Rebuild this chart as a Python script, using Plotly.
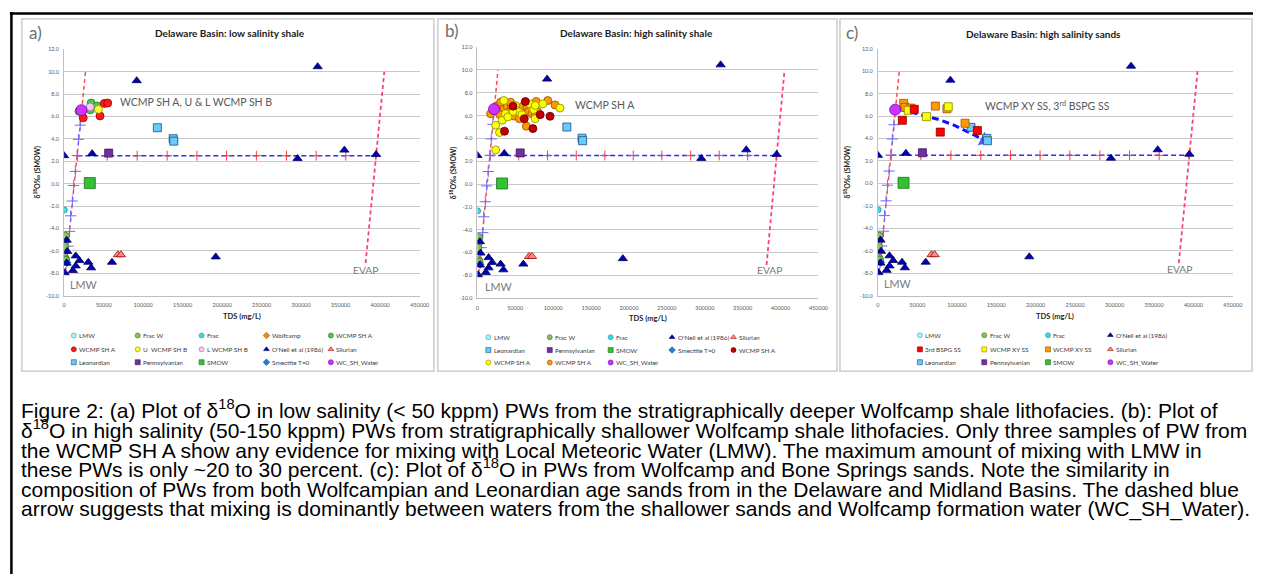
import plotly.graph_objects as go

W, H = 1263, 577

# ---------------- data (TDS mg/L, d18O permil SMOW) ----------------
oneil_tds = [0, 35500, 91900, 320900, 295400, 354700, 394800, 3300, 4000, 3200, 700,
             14700, 19400, 14700, 11100, 30600, 34200, 60600, 191900]
oneil_d18o = [2.5, 2.68, 9.2, 10.45, 2.25, 3.0, 2.6, -5.05, -6.05, -7.1, -7.95,
              -6.45, -6.87, -7.35, -7.75, -7.02, -7.52, -7.02, -6.54]

silurian_tds = [68000, 72000]
silurian_d18o = [-6.35, -6.35]

lmw_tds = [2500]
lmw_d18o = [-6.95]
fracw_tds = [1800, 500, 1500, 2200]
fracw_d18o = [-4.7, -5.6, -6.7, -6.85]
frac_tds = [300]
frac_d18o = [-2.35]
smectite_tds = [3600]
smectite_d18o = [-7.05]

leon_tds = [118000, 138000, 138800]
leon_d18o = [5.0, 4.02, 3.8]
penn_tds = [56400]
penn_d18o = [2.73]
smow_tds = [32500]
smow_d18o = [0.05]
wcsh_tds = [21900]
wcsh_d18o = [6.57]

# mixing / evaporation reference lines
lmw_mix_tds = [1800, 27100]
lmw_mix_d18o = [-7.8, 10.0]
lmw_cross_tds = [5000, 7000, 8300, 10400, 12100, 14200, 16700, 18300, 20400]
lmw_cross_d18o = [-5.58, -4.26, -2.87, -1.55, -0.16, 1.10, 2.52, 3.96, 5.23]
evap_tds = [381500, 405200]
evap_d18o = [-7.1, 10.0]
smow_line_tds = [16700, 54500, 92500, 130400, 168100, 205600, 243300, 281400, 319000, 356500, 394500]
smow_line_d18o = [2.5] * 11

# panel a: low salinity shale
a_shA_green_tds = [18800, 33000, 34200, 41700]
a_shA_green_d18o = [6.47, 6.6, 7.2, 6.94]
a_shA_red_tds = [24200, 45500, 50900, 55200]
a_shA_red_d18o = [5.88, 6.05, 7.17, 7.2]
a_ushB_tds = [43400]
a_ushB_d18o = [6.64]
a_lshB_tds = [33000]
a_lshB_d18o = [6.85]

# panel b: high salinity shale (three WCMP SH A series)
b_dred_tds = [35700, 47000, 63200, 61800, 73200, 82800, 95800]
b_dred_d18o = [4.63, 6.83, 7.24, 5.73, 4.86, 6.08, 5.94]
b_orange_tds = [17400, 25200, 29600, 34900, 39200, 41400, 44900, 48000, 52300, 55300, 60100,
                65400, 64500, 67600, 71900, 76200, 77500, 79300, 92800, 102300, 30500, 43600]
b_orange_d18o = [6.16, 6.83, 6.08, 6.66, 6.83, 6.31, 6.83, 5.96, 6.46, 5.73, 6.83,
                 6.74, 5.07, 6.37, 6.16, 6.02, 7.24, 6.37, 7.32, 6.94, 7.18, 7.18]
b_yellow_tds = [24000, 29200, 24000, 32700, 34900, 37000, 40100, 50100, 54500, 58800, 68900,
                74100, 76200, 76200, 86300, 108900, 21800, 47000]
b_yellow_d18o = [5.16, 4.52, 2.99, 5.59, 7.32, 6.16, 5.88, 6.89, 6.31, 6.08, 7.03,
                 6.54, 5.73, 6.89, 7.03, 6.66, 6.46, 6.37]

# panel c: high salinity sands
c_bspg_tds = [31000, 46100, 79100, 126100]
c_bspg_d18o = [5.63, 6.6, 4.57, 4.72]
c_xy_yel_tds = [38500, 61500, 89200]
c_xy_yel_d18o = [6.51, 5.95, 6.83]
c_xy_or_tds = [32700, 34400, 41900, 72800, 87500, 110500]
c_xy_or_d18o = [7.13, 6.78, 6.71, 6.89, 6.65, 5.36]
c_arrow_tds = [28000, 51000, 76000, 95000, 114000, 134500]
c_arrow_d18o = [6.6, 6.21, 5.72, 5.24, 4.6, 3.88]

x_ticks = [0, 50000, 100000, 150000, 200000, 250000, 300000, 350000, 400000, 450000]
y_ticks = [-10, -8, -6, -4, -2, 0, 2, 4, 6, 8, 10, 12]

titles = ["Delaware Basin: low salinity shale", "Delaware Basin: high salinity shale",
          "Delaware Basin: high salinity sands"]
panel_letters = ["a)", "b)", "c)"]

caption = [
    "Figure 2: (a) Plot of δ<sup>18</sup>O in low salinity (< 50 kppm) PWs from the stratigraphically deeper Wolfcamp shale lithofacies. (b): Plot of",
    "δ<sup>18</sup>O in high salinity (50-150 kppm) PWs from stratigraphically shallower Wolfcamp shale lithofacies. Only three samples of PW from",
    "the WCMP SH A show any evidence for mixing with Local Meteoric Water (LMW). The maximum amount of mixing with LMW in",
    "these PWs is only ~20 to 30 percent. (c): Plot of δ<sup>18</sup>O in PWs from Wolfcamp and Bone Springs sands. Note the similarity in",
    "composition of PWs from both Wolfcampian and Leonardian age sands from in the Delaware and Midland Basins. The dashed blue",
    "arrow suggests that mixing is dominantly between waters from the shallower sands and Wolfcamp formation water (WC_SH_Water).",
]

# ---------------- styles ----------------
ST = {
    "oneil": ("triangle-up", "#0000b4", "#00005a", 8),
    "silurian": ("triangle-up", "#ff8c8c", "#a00000", 8),
    "lmw": ("circle", "#aef0f5", "#2aa8b8", 7),
    "fracw": ("circle", "#86c45a", "#3f6e22", 8),
    "frac": ("circle", "#3fd8e0", "#1a9aa5", 6),
    "smectite": ("diamond", "#1f7fd0", "#0b4f8a", 6),
    "leon": ("square", "#66ccff", "#1f4e79", 8),
    "penn": ("square", "#7030a0", "#3c1060", 8),
    "smow": ("square", "#33c233", "#1d6e1d", 11),
    "wcsh": ("circle", "#cc33ff", "#7a00a8", 11),
    "shA_green": ("circle", "#4cc94c", "#2a6e2a", 8),
    "shA_red": ("circle", "#ff1a1a", "#9a0000", 8),
    "ushB": ("circle", "#ffff33", "#8a8a00", 8),
    "lshB": ("circle", "#f7c8f5", "#9a6a98", 8),
    "wolfcamp": ("diamond", "#f08c1e", "#9a5000", 6),
    "b_dred": ("circle", "#c00000", "#5a0000", 8),
    "b_yellow": ("circle", "#ffff00", "#8a8a00", 8),
    "b_orange": ("circle", "#ff9900", "#9a5000", 8),
    "c_bspg": ("square", "#ff0000", "#8a0000", 8),
    "c_xy_yel": ("square", "#ffff00", "#8a8a00", 8),
    "c_xy_or": ("square", "#ff9900", "#9a5000", 8),
}

common = [("lmw", lmw_tds, lmw_d18o), ("fracw", fracw_tds, fracw_d18o),
          ("frac", frac_tds, frac_d18o), ("smectite", smectite_tds, smectite_d18o),
          ("oneil", oneil_tds, oneil_d18o), ("silurian", silurian_tds, silurian_d18o),
          ("leon", leon_tds, leon_d18o), ("penn", penn_tds, penn_d18o),
          ("smow", smow_tds, smow_d18o)]

panel_series = [
    [("shA_green", a_shA_green_tds, a_shA_green_d18o), ("lshB", a_lshB_tds, a_lshB_d18o),
     ("shA_red", a_shA_red_tds, a_shA_red_d18o), ("ushB", a_ushB_tds, a_ushB_d18o)],
    [("b_orange", b_orange_tds, b_orange_d18o), ("b_yellow", b_yellow_tds, b_yellow_d18o),
     ("b_dred", b_dred_tds, b_dred_d18o)],
    [("c_xy_or", c_xy_or_tds, c_xy_or_d18o), ("c_xy_yel", c_xy_yel_tds, c_xy_yel_d18o),
     ("c_bspg", c_bspg_tds, c_bspg_d18o)],
]

legend_rows = [
    [[("LMW", "lmw"), ("Frac W", "fracw"), ("Frac", "frac"), ("Wolfcamp", "wolfcamp"), ("WCMP SH A", "shA_green")],
     [("WCMP SH A", "shA_red"), ("U  WCMP SH B", "ushB"), ("L WCMP SH B", "lshB"), ("O'Neil et al (1986)", "oneil"), ("Silurian", "silurian")],
     [("Leonardian", "leon"), ("Pennsylvanian", "penn"), ("SMOW", "smow"), ("Smectite T=0", "smectite"), ("WC_SH_Water", "wcsh")]],
    [[("LMW", "lmw"), ("Frac W", "fracw"), ("Frac", "frac"), ("O'Neil et al (1986)", "oneil"), ("Silurian", "silurian")],
     [("Leonardian", "leon"), ("Pennsylvanian", "penn"), ("SMOW", "smow"), ("Smectite T=0", "smectite"), ("WCMP SH A", "b_dred")],
     [("WCMP SH A", "b_yellow"), ("WCMP SH A", "b_orange"), ("WC_SH_Water", "wcsh")]],
    [[("LMW", "lmw"), ("Frac W", "fracw"), ("Frac", "frac"), ("O'Neil et al (1986)", "oneil")],
     [("3rd BSPG SS", "c_bspg"), ("WCMP XY SS", "c_xy_yel"), ("WCMP XY SS", "c_xy_or"), ("Silurian", "silurian")],
     [("Leonardian", "leon"), ("Pennsylvanian", "penn"), ("SMOW", "smow"), ("WC_SH_Water", "wcsh")]],
]

# ---------------- layout geometry (pixels) ----------------
plot_px = [(62.7, 421.7, 46.6, 295.7), (480.0, 824.3, 44.4, 298.2), (884.3, 1242.7, 46.0, 295.7)]
box_px = [(20, 436, 16, 372), (440, 843, 16, 372), (846, 1262, 16, 372)]
title_px = [(230.5, 30.5), (641, 30), (1051, 31)]
letter_px = [(34, 30), (454, 28), (858, 30)]
ytitle_x = [35.5, 455, 853.5]
xtitle_y = [316.5, 319, 316.5]
leg_cols = [[72.5, 137, 201.5, 267, 332], [491, 553, 614.5, 676.5, 738.5], [926.7, 991.7, 1056, 1119]]
leg_rows = [[336, 350, 363], [337.7, 350.7, 363.3], [335.7, 350, 363]]
wcmp_label = [("WCMP SH A, U & L WCMP SH B", 67700, 7.29),
              ("WCMP SH A", 126400, 6.89),
              ("WCMP XY SS, 3<sup>rd</sup> BSPG SS", 132700, 6.95)]
lmw_label = [(5000, -9.0), (7800, -8.94), (5000, -8.95)]
evap_label = [(363500, -7.67), (366000, -7.55), (363500, -7.6)]


def fx(x):
    return x / W


def fy(y):
    return 1 - y / H


fig = go.Figure()
layout = dict(width=W, height=H, margin=dict(l=0, r=0, t=0, b=0),
              paper_bgcolor="white", plot_bgcolor="rgba(0,0,0,0)", showlegend=False)

shapes = []
annotations = []

# outer black frame (top and left edges) and panel boxes
shapes.append(dict(type="line", xref="paper", yref="paper", x0=fx(8), x1=1, y0=fy(10.5), y1=fy(10.5),
                   line=dict(color="black", width=2.5)))
shapes.append(dict(type="line", xref="paper", yref="paper", x0=fx(9.5), x1=fx(9.5), y0=fy(9), y1=0,
                   line=dict(color="black", width=2.5)))
for (l, r, t, b) in box_px:
    shapes.append(dict(type="rect", xref="paper", yref="paper", x0=fx(l), x1=fx(r), y0=fy(b), y1=fy(t),
                       line=dict(color="#d4d4d4", width=1.8), fillcolor="rgba(0,0,0,0)", layer="below"))

for i in range(3):
    xa = "x" if i == 0 else f"x{i+1}"
    ya = "y" if i == 0 else f"y{i+1}"
    xl, xr, yt, yb = plot_px[i]
    layout["xaxis" if i == 0 else f"xaxis{i+1}"] = dict(
        domain=[fx(xl), fx(xr)], anchor=ya, range=[0, 450000], tickmode="array",
        tickvals=x_ticks, ticktext=[str(v) for v in x_ticks], showgrid=False, zeroline=False,
        showline=True, linecolor="#bfbfbf", linewidth=1, ticks="",
        tickfont=dict(family="Lato", size=5.5, color="#595959"), ticklabelstandoff=4, fixedrange=True)
    layout["yaxis" if i == 0 else f"yaxis{i+1}"] = dict(
        domain=[fy(yb), fy(yt)], anchor=xa, range=[-10, 12.02], tickmode="array",
        tickvals=y_ticks, ticktext=[f"{v:.1f}" for v in y_ticks], showgrid=True,
        gridcolor="#c8c8c8", gridwidth=1, zeroline=False, showline=True, linecolor="#bfbfbf",
        linewidth=1, ticks="", tickfont=dict(family="Lato", size=5.5, color="#595959"),
        ticklabelstandoff=3, fixedrange=True)

    # reference lines
    fig.add_trace(go.Scatter(x=lmw_mix_tds, y=lmw_mix_d18o, mode="lines", xaxis=xa, yaxis=ya,
                             line=dict(color="#ff4b4b", width=1.5, dash="4px,3px"), hoverinfo="skip"))
    fig.add_trace(go.Scatter(x=evap_tds, y=evap_d18o, mode="lines", xaxis=xa, yaxis=ya,
                             line=dict(color="#ff3d8b", width=1.8, dash="4px,3px"), hoverinfo="skip"))
    fig.add_trace(go.Scatter(x=smow_line_tds, y=smow_line_d18o, mode="lines+markers", xaxis=xa, yaxis=ya,
                             line=dict(color="#2b2bff", width=1.5, dash="5px,3px"),
                             marker=dict(symbol="cross-thin", size=7, line=dict(color="#ff3b3b", width=1)),
                             hoverinfo="skip"))
    fig.add_trace(go.Scatter(x=lmw_cross_tds, y=lmw_cross_d18o, mode="markers", xaxis=xa, yaxis=ya,
                             marker=dict(symbol="cross-thin", size=8, line=dict(color="#6b6bff", width=1)),
                             hoverinfo="skip"))

    if i == 2:
        fig.add_trace(go.Scatter(x=c_arrow_tds, y=c_arrow_d18o, mode="lines+markers", xaxis=xa, yaxis=ya,
                                 line=dict(color="#1010ff", width=3, dash="7px,4px"),
                                 marker=dict(symbol="triangle-up", angleref="previous",
                                             size=[0, 0, 0, 0, 0, 13], color="#1010ff",
                                             line=dict(width=0)),
                                 hoverinfo="skip"))

    for key, xs, ys in common + panel_series[i] + [("wcsh", wcsh_tds, wcsh_d18o)]:
        sym, fill, edge, size = ST[key]
        fig.add_trace(go.Scatter(x=xs, y=ys, mode="markers", xaxis=xa, yaxis=ya,
                                 marker=dict(symbol=sym, size=size, color=fill,
                                             line=dict(color=edge, width=0.8)),
                                 hoverinfo="skip"))

    # titles and axis titles
    tx, ty = title_px[i]
    annotations.append(dict(xref="paper", yref="paper", x=fx(tx), y=fy(ty), text=f"<b>{titles[i]}</b>",
                            showarrow=False, xanchor="center", yanchor="middle",
                            font=dict(family="Lato", size=10, color="#1a1a1a")))
    lx, ly = letter_px[i]
    annotations.append(dict(xref="paper", yref="paper", x=fx(lx), y=fy(ly), text=panel_letters[i],
                            showarrow=False, xanchor="center", yanchor="middle",
                            font=dict(family="Lato", size=17, color="#6e6e6e")))
    annotations.append(dict(xref="paper", yref="paper", x=fx(ytitle_x[i]), y=fy((yt + yb) / 2),
                            text="<b>δ<sup>18</sup>O‰ (SMOW)</b>", textangle=-90, showarrow=False,
                            xanchor="center", yanchor="middle",
                            font=dict(family="Lato", size=7, color="#262626")))
    annotations.append(dict(xref="paper", yref="paper", x=fx((xl + xr) / 2), y=fy(xtitle_y[i]),
                            text="<b>TDS (mg/L)</b>", showarrow=False, xanchor="center", yanchor="middle",
                            font=dict(family="Lato", size=7.5, color="#262626")))
    # in-chart labels
    txt, lxv, lyv = wcmp_label[i]
    annotations.append(dict(xref=xa, yref=ya, x=lxv, y=lyv, text=txt, showarrow=False,
                            xanchor="left", yanchor="middle",
                            font=dict(family="Lato", size=10.5, color="#595959")))
    annotations.append(dict(xref=xa, yref=ya, x=lmw_label[i][0], y=lmw_label[i][1], text="LMW",
                            showarrow=False, xanchor="left", yanchor="middle",
                            font=dict(family="Lato", size=10.8, color="#7a7a7a")))
    annotations.append(dict(xref=xa, yref=ya, x=evap_label[i][0], y=evap_label[i][1], text="EVAP",
                            showarrow=False, xanchor="left", yanchor="middle",
                            font=dict(family="Lato", size=10.3, color="#7a7a7a")))

# legends: markers on a pixel-space overlay axis, labels as text
leg_x, leg_y, leg_sym, leg_fill, leg_edge = [], [], [], [], []
for i in range(3):
    for r, row in enumerate(legend_rows[i]):
        for c, (label, key) in enumerate(row):
            sym, fill, edge, size = ST[key]
            mx, my = leg_cols[i][c], leg_rows[i][r]
            leg_x.append(mx)
            leg_y.append(my)
            leg_sym.append(sym)
            leg_fill.append(fill)
            leg_edge.append(edge)
            annotations.append(dict(xref="paper", yref="paper", x=fx(mx + 3.5), y=fy(my), text=label,
                                    showarrow=False, xanchor="left", yanchor="middle",
                                    font=dict(family="Lato", size=6.4, color="#3a3a3a")))
fig.add_trace(go.Scatter(x=leg_x, y=leg_y, mode="markers", xaxis="x4", yaxis="y4",
                         marker=dict(symbol=leg_sym, size=5, color=leg_fill,
                                     line=dict(color=leg_edge, width=0.6)),
                         hoverinfo="skip"))
layout["xaxis4"] = dict(domain=[0, 1], range=[0, W], visible=False, anchor="y4", fixedrange=True)
layout["yaxis4"] = dict(domain=[0, 1], range=[H, 0], visible=False, anchor="x4", fixedrange=True)

# caption (bottom-anchored so superscripts do not shift the baseline)
for k, line in enumerate(caption):
    annotations.append(dict(xref="paper", yref="paper", x=fx(17), y=fy(425.5 + k * 20), text=line,
                            showarrow=False, xanchor="left", yanchor="bottom",
                            font=dict(family="Liberation Sans", size=21, color="black")))

layout["shapes"] = shapes
layout["annotations"] = annotations
fig.update_layout(**layout)
fig.write_html("out.html", config={"displayModeBar": False})
